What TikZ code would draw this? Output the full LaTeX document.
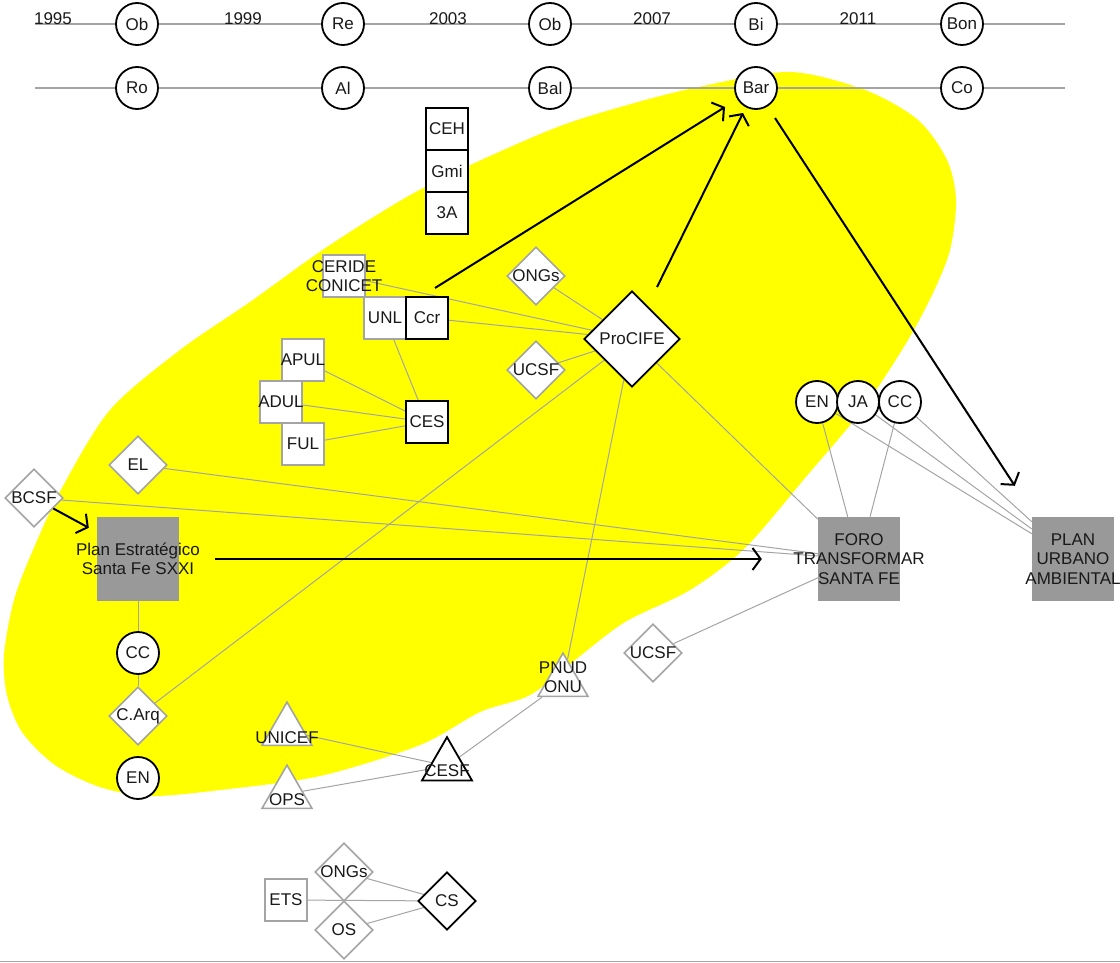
\documentclass[tikz,border=0pt]{standalone}
\usepackage{fontspec}
\setmainfont{Liberation Sans}
\usetikzlibrary{arrows.meta,positioning,shapes.geometric}
\pgfdeclarelayer{back}
\pgfsetlayers{back,main}
\definecolor{linegray}{HTML}{A4A4A4}
\definecolor{boxgray}{HTML}{999999}
\definecolor{blobyellow}{HTML}{FFFF00}

\begin{document}
\begin{tikzpicture}[x=1pt, y=-1pt, >={Straight Barb[length=8pt,width=22pt]},
    font=\fontsize{17}{19.5}\selectfont, text=black!90,
    circ/.style={draw, circle, line width=1.8pt, fill=white, minimum size=42pt, inner sep=0pt},
    sqb/.style={draw, rectangle, line width=1.8pt, fill=white, minimum size=42pt, inner sep=0pt, outer sep=0pt},
    sqg/.style={sqb, draw=linegray, line width=1.6pt},
    dia/.style={draw, diamond, line width=1.8pt, fill=white, minimum size=58pt, inner sep=0pt},
    diag/.style={dia, draw=linegray, line width=1.6pt},
    tri/.style={draw=linegray, regular polygon, regular polygon sides=3, line width=1.6pt, fill=white, minimum size=57.7pt, inner sep=0pt},
    greybox/.style={rectangle, fill=boxgray, minimum width=82pt, minimum height=84pt, inner sep=0pt},
    tag/.style={label={[align=center]center:#1}},
    link/.style={draw=linegray, line width=1pt},
    flow/.style={->, line width=2pt},
    node distance=0pt
]
    \useasboundingbox (0,0) rectangle (1120,963);

    % Timeline
    \coordinate (tl1) at (35,24);  \coordinate (tr1) at (1065,24);
    \coordinate (tl2) at (35,88);  \coordinate (tr2) at (1065,88);
    \foreach \yr/\xx in {1995/53, 1999/243, 2003/448, 2007/652, 2011/858}
        \node[anchor=base] (y\yr) at (\xx,25) {\yr};
    \foreach \nm/\xx/\txt in {ob1/137/Ob, re/343/Re, ob2/550/Ob, bi/756/Bi, bon/962/Bon}
        \node[circ] (\nm) at (\xx,24) {\txt};
    \foreach \nm/\xx/\txt in {ro/137/Ro, al/343/Al, bal/550/Bal, bar/756/Bar, co/962/Co}
        \node[circ] (\nm) at (\xx,88) {\txt};

    % Nodes
    \node[sqb] (ceh) at (447,129) {CEH};
    \node[sqb, below=of ceh] (gmi) {Gmi};
    \node[sqb, below=of gmi] (tresa) {3A};

    \node[sqg, tag={CERIDE\\CONICET}] (ceride) at (344,276) {};
    \node[sqg] (unl) at (385,318) {UNL};
    \node[sqb, right=of unl] (ccr) {Ccr};
    \node[sqg, tag=APUL] (apul) at (303,360) {};
    \node[sqg, tag=ADUL] (adul) at (281,402) {};
    \node[sqg] (ful) at (303,444) {FUL};
    \node[sqb] (ces) at (427,422) {CES};

    \node[diag, tag=ONGs] (ongs) at (536,276) {};
    \node[diag, tag=UCSF] (ucsf) at (536,370) {};
    \node[dia, minimum size=96pt, tag=ProCIFE] (procife) at (632,339) {};

    \node[diag, tag=EL] (el) at (138,465) {};
    \node[diag, tag=BCSF] (bcsf) at (34,498) {};
    \node[greybox, tag={Plan Estratégico\\Santa Fe SXXI}] (pese) at (138,559) {};
    \node[circ] (cc) at (138,653) {CC};
    \node[diag, tag=C.Arq] (carq) at (138,716) {};
    \node[circ] (en) at (138,778) {EN};

    \node[tri, label={[yshift=-7pt]center:UNICEF}] (unicef) at (287,731) {};
    \node[tri, label={[yshift=-6pt]center:OPS}] (ops) at (287,794) {};
    \node[tri, draw=black, line width=1.8pt, label={[yshift=-5pt]center:CESF}] (cesf) at (447,766) {};
    \node[tri, label={[align=center, yshift=5pt]center:PNUD\\ONU}] (pnud) at (563,682) {};
    \node[diag, tag=UCSF] (ucsfb) at (653,653) {};

    \node[sqg] (ets) at (286,900) {ETS};
    \node[diag, tag=ONGs] (ongsb) at (344,872) {};
    \node[diag, tag=OS] (os) at (344,930) {};
    \node[dia, tag=CS] (cs) at (447,901) {};

    \node[circ] (enb) at (817,402) {EN};
    \node[circ] (ja) at (858,402) {JA};
    \node[circ] (ccb) at (900,402) {CC};
    \node[greybox, tag={FORO\\TRANSFORMAR\\SANTA FE}] (foro) at (859,559) {};
    \node[greybox, tag={PLAN\\URBANO\\AMBIENTAL}] (pua) at (1073,559) {};

    % Background: area and thin lines
    \begin{pgfonlayer}{back}
        \fill[blobyellow] plot[smooth cycle] coordinates {
            (790,72) (865,90) (918,120) (947,160) (956,200) (950,250) (932,295)
            (905,345) (862,410) (805,478) (745,548) (690,590) (625,622) (575,660)
            (530,695) (480,712) (420,745) (320,776) (220,790) (150,796) (100,787)
            (55,765) (22,732) (7,695) (4,655) (14,600) (33,550) (62,488) (110,410)
            (180,350) (250,302) (330,245) (425,187) (550,130) (631,104) (703,86)};
        \draw[linegray, line width=1.4pt] (tl1) -- (tr1);
        \draw[linegray, line width=1.4pt] (tl2) -- (tr2);

        \draw[link] (ceride) -- (procife);
        \draw[link] (ccr) -- (procife);
        \draw[link] (ongs) -- (procife);
        \draw[link] (ucsf) -- (procife);
        \draw[link] (unl) -- (ces);
        \draw[link] (apul) -- (ces);
        \draw[link] (adul) -- (ces);
        \draw[link] (ful) -- (ces);
        \draw[link] (procife) -- (carq);
        \draw[link] (procife) -- (pnud);
        \draw[link] (procife) -- (foro);
        \draw[link] (el) -- (foro);
        \draw[link] (bcsf) -- (foro);
        \draw[link] (ucsfb) -- (foro);
        \draw[link] (enb) -- (foro);
        \draw[link] (ccb) -- (foro);
        \draw[link] (enb) -- (pua);
        \draw[link] (ja) -- (pua);
        \draw[link] (ccb) -- (pua);
        \draw[link] (pese) -- (cc);
        \draw[link] (cc) -- (carq);
        \draw[link] (pnud) -- (cesf);
        \draw[link] (unicef) -- (cesf);
        \draw[link] (ops) -- (cesf);
        \draw[link] (ets) -- (cs);
        \draw[link] (ongsb) -- (cs);
        \draw[link] (os) -- (cs);
    \end{pgfonlayer}

    % Arrows
    \draw[flow] ([xshift=8pt,yshift=9pt]ccr.north) -- ([xshift=-31pt,yshift=-19pt]bar.center);
    \draw[flow] ([xshift=25pt,yshift=3pt]procife.north) -- ([xshift=-13pt,yshift=-25pt]bar.center);
    \draw[flow] ([xshift=19pt,yshift=-30pt]bar.center) -- ([xshift=-17pt,yshift=31pt]pua.north west);
    \draw[flow, shorten <=36pt, shorten >=56pt] (pese) -- (foro);
    \draw[flow] (bcsf) -- ([xshift=-8pt,yshift=-11pt]pese.north west);

    \draw[linegray, line width=0.8pt] (0,961) -- (1120,961);
\end{tikzpicture}
\end{document}
